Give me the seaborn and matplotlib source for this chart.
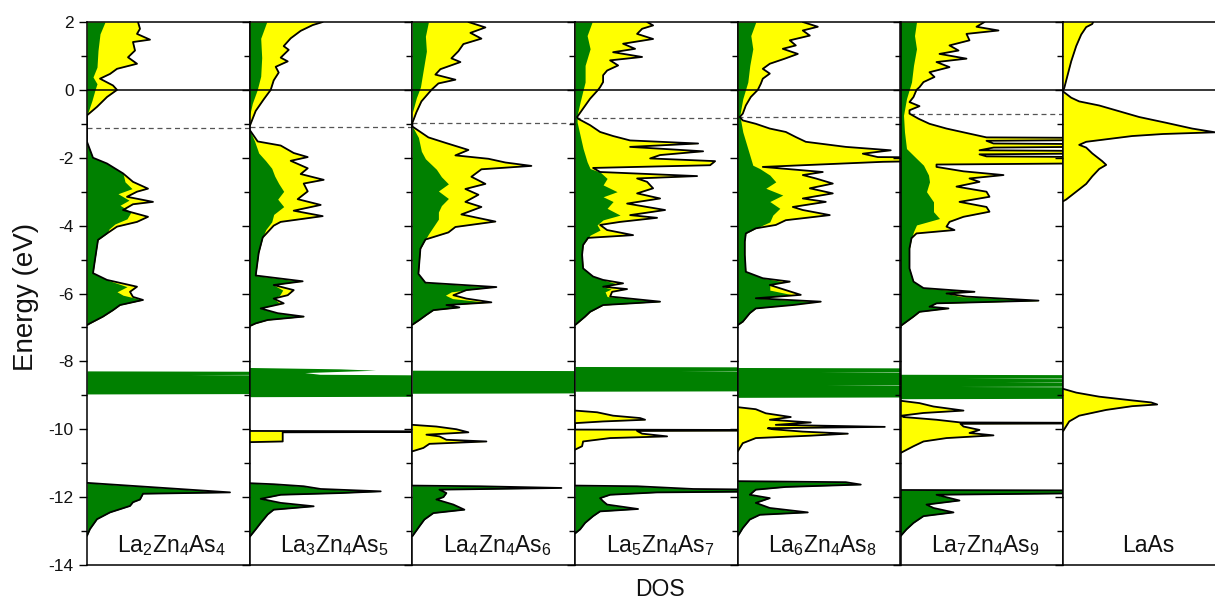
import numpy as np
import pandas as pd
import matplotlib
matplotlib.use('Agg')
import matplotlib.pyplot as plt
import seaborn as sns

# (energy eV, DOS arb. units), one set per panel
# *_tot  : total DOS (yellow fill, black outline) from 2 eV down to the bottom of the valence band
# *_zn   : green partial DOS in the same window
# *_band : narrow Zn-3d band (green, off scale)
# *_core : low-lying As-4s group (green)
# *_la   : La-derived semicore peaks (yellow only)

la2_tot = [(2.0, 51), (1.80, 53), (1.65, 50), (1.48, 63), (1.41, 46), (1.16, 48), (0.96, 41), (0.77, 50),
           (0.62, 30), (0.47, 23), (0.33, 13), (0.13, 26), (0.0, 30), (-0.21, 20), (-0.5, 10), (-0.75, 0),
           (-1.53, 0), (-2.0, 6), (-2.17, 20), (-2.46, 36), (-2.71, 46), (-2.91, 61), (-3.0, 50), (-3.15, 40),
           (-3.3, 66), (-3.37, 46), (-3.54, 36), (-3.74, 61), (-3.89, 50), (-4.03, 30), (-4.23, 20), (-4.42, 11),
           (-5.0, 8), (-5.4, 6), (-5.6, 20), (-5.8, 50), (-5.95, 43), (-6.1, 46), (-6.19, 56), (-6.34, 33),
           (-6.49, 26), (-6.68, 16), (-6.88, 3), (-6.93, 0)]
la2_zn = [(2.0, 18), (1.65, 13), (1.16, 11), (0.67, 10), (0.38, 6), (0.18, 10), (0.0, 8), (-0.31, 5), (-0.75, 0),
          (-1.53, 0), (-2.0, 6), (-2.17, 20), (-2.46, 36), (-2.71, 38), (-2.91, 45), (-3.06, 31), (-3.25, 42),
          (-3.4, 33), (-3.6, 44), (-3.8, 40), (-3.95, 28), (-4.1, 22), (-4.23, 20), (-4.42, 11), (-5.0, 8),
          (-5.4, 6), (-5.6, 20), (-5.8, 40), (-5.95, 30), (-6.05, 36), (-6.19, 56), (-6.34, 33), (-6.49, 26),
          (-6.68, 16), (-6.88, 3), (-6.93, 0)]
la2_band = [(-8.28, 0), (-8.30, 300), (-8.37, 300), (-8.39, 103), (-8.41, 300), (-8.94, 300), (-8.96, 0)]
la2_core = [(-11.58, 0), (-11.86, 143), (-11.9, 56), (-12.07, 53), (-12.15, 46), (-12.26, 43), (-12.45, 23),
            (-12.65, 10), (-12.94, 3), (-13.14, 0)]

la3_tot = [(2.0, 73), (1.91, 63), (1.74, 51), (1.52, 41), (1.29, 34), (1.18, 39), (0.95, 31), (0.84, 38),
           (0.68, 26), (0.51, 29), (0.28, 24), (0.0, 21), (-0.28, 14), (-0.62, 6), (-1.07, 0), (-1.18, 0),
           (-1.52, 8), (-1.64, 31), (-1.86, 44), (-1.98, 58), (-2.09, 41), (-2.31, 58), (-2.48, 51), (-2.65, 74),
           (-2.76, 54), (-2.99, 58), (-3.22, 48), (-3.39, 71), (-3.56, 44), (-3.72, 73), (-3.89, 31), (-4.0, 24),
           (-4.35, 13), (-4.8, 9), (-5.47, 6), (-5.64, 53), (-5.75, 24), (-5.9, 44), (-6.05, 38), (-6.15, 24),
           (-6.29, 34), (-6.44, 11), (-6.58, 28), (-6.68, 54), (-6.78, 18), (-6.88, 6), (-6.96, 0)]
la3_zn = [(2.0, 17), (1.52, 11), (0.95, 12), (0.4, 11), (0.0, 7.5), (-0.4, 2.6), (-0.74, 0), (-1.18, 0),
          (-1.52, 5), (-1.86, 9), (-2.09, 16), (-2.31, 22), (-2.54, 25), (-2.76, 29), (-2.99, 34), (-3.22, 28),
          (-3.44, 34), (-3.67, 24), (-3.89, 22), (-4.12, 16), (-4.35, 13), (-4.8, 9), (-5.47, 6), (-5.64, 50),
          (-5.75, 24), (-5.9, 33), (-6.05, 30), (-6.15, 24), (-6.29, 30), (-6.44, 11), (-6.58, 28), (-6.68, 54),
          (-6.78, 18), (-6.88, 6), (-6.96, 0)]
la3_band = [(-8.18, 0), (-8.22, 90), (-8.26, 126), (-8.33, 55), (-8.38, 70), (-8.42, 300), (-9.02, 300), (-9.04, 0)]
la3_core = [(-11.59, 0), (-11.62, 24), (-11.68, 54), (-11.76, 71), (-11.83, 131), (-11.88, 91), (-11.93, 31),
            (-12.05, 11), (-12.17, 31), (-12.27, 64), (-12.37, 24), (-12.51, 18), (-12.76, 11), (-12.95, 6),
            (-13.17, 0)]
la3_la = [(-10.05, 0), (-10.07, 300), (-10.09, 33), (-10.36, 33), (-10.38, 0)]

la4_tot = [(2.0, 56), (1.84, 73), (1.68, 58), (1.51, 69), (1.35, 51), (1.14, 46), (0.93, 39), (0.82, 48),
           (0.61, 28), (0.45, 23), (0.3, 43), (0.19, 26), (0.0, 19), (-0.34, 9), (-0.66, 4), (-0.97, 0),
           (-1.08, 0), (-1.4, 16), (-1.56, 33), (-1.77, 56), (-1.93, 43), (-2.03, 76), (-2.14, 93), (-2.24, 119),
           (-2.34, 69), (-2.56, 59), (-2.77, 73), (-2.92, 53), (-3.09, 66), (-3.3, 53), (-3.45, 69), (-3.67, 49),
           (-3.88, 83), (-4.04, 43), (-4.2, 36), (-4.41, 13), (-4.68, 8), (-5.42, 6), (-5.68, 13), (-5.81, 84),
           (-5.9, 54), (-6.05, 41), (-6.15, 54), (-6.26, 79), (-6.34, 34), (-6.41, 47), (-6.49, 21), (-6.63, 14),
           (-6.78, 7), (-6.88, 2), (-6.92, 0)]
la4_zn = [(2.0, 16), (1.58, 13), (1.14, 14), (0.61, 11), (0.08, 8), (-0.23, 4), (-0.66, 0), (-1.08, 0),
          (-1.4, 6), (-1.81, 9), (-2.03, 13), (-2.34, 24), (-2.56, 29), (-2.77, 36), (-2.98, 26), (-3.2, 36),
          (-3.41, 29), (-3.6, 26), (-3.81, 26), (-4.03, 21), (-4.25, 16), (-4.41, 13), (-4.68, 8), (-5.42, 6),
          (-5.68, 13), (-5.81, 80), (-5.95, 39), (-6.05, 33), (-6.15, 40), (-6.26, 75), (-6.34, 34), (-6.41, 47),
          (-6.49, 21), (-6.63, 14), (-6.78, 7), (-6.88, 2), (-6.92, 0)]
la4_band = [(-8.26, 0), (-8.28, 300), (-8.92, 300), (-8.94, 0)]
la4_core = [(-11.66, 0), (-11.68, 67), (-11.73, 149), (-11.78, 27), (-11.88, 34), (-12.0, 31), (-12.07, 24),
            (-12.22, 41), (-12.37, 52), (-12.47, 21), (-12.66, 12), (-12.86, 7), (-13.15, 0)]
la4_la = [(-9.87, 0), (-9.92, 24), (-10.0, 44), (-10.09, 56), (-10.16, 14), (-10.21, 27), (-10.31, 34),
          (-10.36, 74), (-10.43, 17), (-10.55, 11), (-10.65, 0)]

la5_tot = [(2.0, 72), (1.9, 78), (1.8, 67), (1.65, 62), (1.5, 78), (1.36, 48), (1.21, 60), (1.11, 38), (0.97, 67),
           (0.87, 35), (0.72, 43), (0.57, 32), (0.43, 28), (0.23, 28), (0.08, 25), (0.0, 23), (-0.26, 15),
           (-0.55, 8), (-0.8, 2), (-0.85, 3), (-1.04, 15), (-1.24, 25), (-1.36, 38), (-1.49, 55), (-1.58, 123),
           (-1.68, 55), (-1.81, 128), (-1.92, 85), (-2.02, 75), (-2.1, 140), (-2.22, 135), (-2.3, 18), (-2.42, 25),
           (-2.54, 122), (-2.61, 62), (-2.71, 72), (-2.9, 78), (-3.05, 62), (-3.2, 85), (-3.35, 52), (-3.54, 90),
           (-3.69, 55), (-3.77, 82), (-3.89, 45), (-3.98, 25), (-4.13, 32), (-4.28, 58), (-4.36, 13), (-4.57, 8),
           (-4.86, 7), (-5.26, 8), (-5.5, 18), (-5.6, 28), (-5.7, 48), (-5.8, 28), (-5.87, 52), (-5.95, 37),
           (-6.09, 35), (-6.24, 85), (-6.34, 28), (-6.54, 15), (-6.68, 10), (-6.88, 2), (-6.93, 0)]
la5_zn = [(2.0, 17), (1.6, 12), (1.21, 15), (0.72, 10), (0.23, 10), (0.0, 8), (-0.36, 5), (-0.75, 2), (-0.95, 2),
          (-1.34, 5), (-1.73, 8), (-2.12, 12), (-2.32, 15), (-2.42, 25), (-2.61, 32), (-2.8, 28), (-3.0, 42),
          (-3.15, 28), (-3.29, 38), (-3.49, 32), (-3.69, 45), (-3.83, 28), (-3.98, 22), (-4.13, 25), (-4.28, 15),
          (-4.36, 13), (-4.57, 8), (-4.86, 7), (-5.26, 8), (-5.5, 18), (-5.6, 28), (-5.7, 40), (-5.8, 28),
          (-5.87, 36), (-5.95, 30), (-6.09, 32), (-6.24, 85), (-6.34, 28), (-6.54, 15), (-6.68, 10), (-6.88, 2),
          (-6.93, 0)]
la5_band = [(-8.15, 0), (-8.17, 300), (-8.26, 300), (-8.28, 105), (-8.30, 300), (-8.86, 300), (-8.88, 0)]
la5_core = [(-11.66, 0), (-11.68, 62), (-11.76, 118), (-11.81, 300), (-11.86, 82), (-11.93, 35), (-12.03, 25),
            (-12.12, 28), (-12.22, 32), (-12.35, 63), (-12.42, 25), (-12.56, 18), (-12.76, 10), (-12.95, 5),
            (-13.07, 0)]
la5_la = [(-9.45, 0), (-9.5, 22), (-9.6, 38), (-9.67, 65), (-9.72, 70), (-9.77, 28), (-9.82, 0), (-10.01, 0),
          (-10.03, 300), (-10.05, 62), (-10.13, 67), (-10.21, 92), (-10.26, 35), (-10.36, 8), (-10.5, 7),
          (-10.6, 0)]

la6_tot = [(2.0, 65), (1.86, 80), (1.75, 65), (1.6, 72), (1.46, 52), (1.31, 58), (1.21, 45), (1.06, 60),
           (0.92, 47), (0.77, 32), (0.62, 25), (0.48, 32), (0.33, 25), (0.18, 23), (0.0, 20), (-0.21, 13),
           (-0.46, 8), (-0.7, 5), (-0.8, 2), (-0.9, 5), (-1.0, 18), (-1.14, 32), (-1.24, 48), (-1.39, 58),
           (-1.53, 68), (-1.68, 108), (-1.78, 153), (-1.88, 125), (-1.98, 140), (-2.01, 300), (-2.04, 300),
           (-2.12, 145), (-2.27, 25), (-2.42, 85), (-2.51, 65), (-2.61, 78), (-2.76, 95), (-2.9, 72), (-3.05, 95),
           (-3.2, 65), (-3.3, 88), (-3.45, 55), (-3.54, 65), (-3.69, 92), (-3.84, 48), (-3.98, 38), (-4.08, 18),
           (-4.23, 8), (-4.47, 7), (-4.86, 7), (-5.36, 8), (-5.55, 25), (-5.65, 52), (-5.75, 32), (-5.9, 48),
           (-6.04, 63), (-6.14, 18), (-6.24, 83), (-6.34, 55), (-6.44, 18), (-6.58, 12), (-6.83, 5), (-6.93, 0)]
la6_zn = [(2.0, 18), (1.6, 13), (1.21, 15), (0.72, 12), (0.23, 10), (-0.26, 5), (-0.75, 2), (-1.24, 5),
          (-1.73, 10), (-2.22, 15), (-2.32, 22), (-2.51, 32), (-2.71, 38), (-2.9, 28), (-3.1, 45), (-3.29, 32),
          (-3.49, 42), (-3.69, 35), (-3.89, 32), (-4.08, 18), (-4.23, 8), (-4.47, 7), (-4.86, 7), (-5.36, 8),
          (-5.55, 25), (-5.65, 45), (-5.75, 32), (-5.9, 32), (-6.04, 55), (-6.14, 18), (-6.24, 80), (-6.34, 50),
          (-6.44, 18), (-6.58, 12), (-6.83, 5), (-6.93, 0)]
la6_band = [(-8.18, 0), (-8.2, 300), (-8.29, 300), (-8.31, 82), (-8.33, 300), (-8.67, 300), (-8.69, 88),
            (-8.71, 300), (-9.04, 300), (-9.06, 0)]
la6_core = [(-11.53, 0), (-11.56, 108), (-11.63, 123), (-11.7, 48), (-11.78, 18), (-11.93, 12), (-12.03, 32),
            (-12.1, 25), (-12.17, 18), (-12.32, 32), (-12.45, 70), (-12.52, 22), (-12.66, 12), (-12.91, 5),
            (-13.15, 0)]
la6_la = [(-9.35, 0), (-9.41, 18), (-9.53, 28), (-9.64, 53), (-9.72, 32), (-9.8, 73), (-9.87, 38), (-9.93, 147),
          (-9.97, 30), (-10.0, 35), (-10.07, 65), (-10.13, 110), (-10.19, 72), (-10.26, 18), (-10.41, 5),
          (-10.65, 0)]

la7_tot = [(2.0, 84), (1.86, 76), (1.75, 98), (1.65, 66), (1.46, 69), (1.31, 49), (1.16, 58), (1.06, 39),
           (0.92, 66), (0.82, 36), (0.67, 49), (0.52, 29), (0.38, 34), (0.23, 23), (0.08, 19), (0.0, 16),
           (-0.21, 13), (-0.36, 9), (-0.48, 19), (-0.6, 9), (-0.7, 9), (-0.85, 18), (-1.0, 29), (-1.14, 46),
           (-1.29, 69), (-1.40, 86), (-1.43, 300), (-1.46, 300), (-1.50, 86), (-1.58, 93), (-1.62, 300),
           (-1.65, 300), (-1.70, 93), (-1.78, 79), (-1.82, 300), (-1.85, 300), (-1.90, 79), (-1.96, 86),
           (-2.0, 300), (-2.14, 300), (-2.2, 36), (-2.27, 36), (-2.4, 63), (-2.51, 103), (-2.61, 69), (-2.71, 79),
           (-2.85, 56), (-3.0, 86), (-3.15, 89), (-3.3, 59), (-3.45, 86), (-3.59, 89), (-3.74, 63), (-3.89, 49),
           (-4.03, 46), (-4.13, 54), (-4.23, 16), (-4.37, 11), (-4.67, 9), (-5.26, 9), (-5.65, 13), (-5.84, 23),
           (-5.95, 74), (-6.0, 46), (-6.09, 66), (-6.21, 138), (-6.29, 36), (-6.39, 29), (-6.44, 48), (-6.54, 19),
           (-6.68, 13), (-6.83, 6), (-6.96, 0)]
la7_zn = [(2.0, 16), (1.6, 14), (1.21, 16), (0.72, 13), (0.23, 11), (-0.26, 6), (-0.75, 3), (-1.24, 4),
          (-1.73, 6), (-2.02, 16), (-2.22, 23), (-2.51, 28), (-2.71, 29), (-3.0, 26), (-3.3, 33), (-3.59, 33),
          (-3.79, 39), (-3.98, 16), (-4.18, 13), (-4.37, 11), (-4.67, 9), (-5.26, 9), (-5.65, 13), (-5.84, 23),
          (-5.95, 70), (-6.0, 46), (-6.09, 60), (-6.21, 138), (-6.29, 36), (-6.39, 29), (-6.44, 46), (-6.54, 19),
          (-6.68, 13), (-6.83, 6), (-6.96, 0)]
la7_band = [(-8.38, 0), (-8.4, 300), (-8.48, 300), (-8.5, 63), (-8.52, 300), (-8.58, 300), (-8.6, 103),
            (-8.62, 300), (-8.72, 300), (-8.74, 59), (-8.76, 300), (-9.08, 300), (-9.1, 0)]
la7_core = [(-11.79, 0), (-11.81, 300), (-11.85, 300), (-11.93, 36), (-12.1, 59), (-12.22, 26), (-12.32, 33),
            (-12.45, 53), (-12.56, 23), (-12.76, 13), (-12.95, 6), (-13.15, 0)]
la7_la = [(-9.16, 0), (-9.23, 19), (-9.33, 33), (-9.45, 63), (-9.52, 23), (-9.6, 1), (-9.64, 3), (-9.72, 36),
          (-9.8, 60), (-9.82, 300), (-9.84, 60), (-9.92, 63), (-10.02, 79), (-10.11, 69), (-10.18, 93),
          (-10.26, 46), (-10.36, 23), (-10.5, 13), (-10.7, 0)]

laas_tot = [(2.0, 30), (1.94, 29), (1.85, 23), (1.63, 18), (1.29, 13), (0.84, 8), (0.39, 4), (0.05, 1), (0.0, 0),
            (-0.05, 0), (-0.23, 8), (-0.34, 16), (-0.46, 36), (-0.63, 56), (-0.8, 76), (-0.97, 103), (-1.14, 129),
            (-1.25, 152), (-1.3, 100), (-1.36, 69), (-1.53, 23), (-1.62, 16), (-1.7, 23), (-1.87, 29), (-2.1, 39),
            (-2.21, 43), (-2.33, 36), (-2.55, 29), (-2.77, 23), (-3.0, 13), (-3.23, 3), (-3.28, 0)]
laas_la = [(-8.81, 0), (-8.92, 13), (-9.04, 36), (-9.15, 69), (-9.21, 88), (-9.27, 94), (-9.32, 69), (-9.43, 43),
           (-9.6, 16), (-9.77, 6), (-10.05, 0)]

labels = ['La$_2$Zn$_4$As$_4$', 'La$_3$Zn$_4$As$_5$', 'La$_4$Zn$_4$As$_6$', 'La$_5$Zn$_4$As$_7$',
          'La$_6$Zn$_4$As$_8$', 'La$_7$Zn$_4$As$_9$', 'LaAs']
vbm = [-1.12, -1.08, -0.98, -0.82, -0.80, -0.70, None]

panels = [
    (la2_tot, la2_zn, la2_band, la2_core, None),
    (la3_tot, la3_zn, la3_band, la3_core, la3_la),
    (la4_tot, la4_zn, la4_band, la4_core, la4_la),
    (la5_tot, la5_zn, la5_band, la5_core, la5_la),
    (la6_tot, la6_zn, la6_band, la6_core, la6_la),
    (la7_tot, la7_zn, la7_band, la7_core, la7_la),
    (laas_tot, None, None, None, laas_la),
]

YEL = '#ffff00'
GRN = '#008000'

sns.set_theme(style='ticks')
plt.rcParams['font.family'] = ['Liberation Sans', 'DejaVu Sans']
plt.rcParams['mathtext.fontset'] = 'custom'
plt.rcParams['mathtext.rm'] = 'Liberation Sans'
plt.rcParams['mathtext.default'] = 'regular'
plt.rcParams['axes.unicode_minus'] = False


def split(pts):
    a = np.array(pts, dtype=float)
    return a[:, 0], a[:, 1]


def outline(ax, pts):
    df = pd.DataFrame(pts, columns=['E', 'dos'])
    sns.lineplot(data=df, x='dos', y='E', orient='y', sort=False, estimator=None,
                 color='black', lw=1.3, ax=ax, zorder=4, legend=False)


fig = plt.figure(figsize=(12.15, 6.0), dpi=100)
x0, pw = 87, 162.7

for i, (tot, zn, band, core, la) in enumerate(panels):
    ax = fig.add_axes([(x0 + i * pw) / 1215, 35 / 600, pw / 1215, 543 / 600])

    if vbm[i] is not None:
        ax.axhline(vbm[i], color='#555555', lw=0.9, ls=(0, (4, 3)), zorder=1)

    # yellow total DOS first, green partial on top, black outline last
    for seg in [tot, la]:
        if seg is None:
            continue
        e, d = split(seg)
        ax.fill_betweenx(e, 0, d, color=YEL, lw=0, zorder=2)

    for seg in [zn, band, core]:
        if seg is None:
            continue
        e, d = split(seg)
        ax.fill_betweenx(e, 0, d, color=GRN, lw=0, zorder=3)

    for seg in [tot, la, core]:
        if seg is not None:
            outline(ax, seg)

    ax.axhline(0, color='black', lw=1.1, zorder=5)

    ax.text(85, -13.62, labels[i], ha='center', va='baseline', fontsize=16.5, color='#111111', zorder=6)

    ax.set_xlim(0, pw)
    ax.set_ylim(-14, 2)
    ax.set_xticks([])
    ax.set_yticks(np.arange(-14, 3, 2))
    ax.set_yticks(np.arange(-13, 2, 2), minor=True)
    ax.tick_params(axis='y', which='major', direction='out', length=6, width=1, color='black',
                   labelsize=12.5, labelcolor='#111111', left=True, right=False)
    ax.tick_params(axis='y', which='minor', direction='out', length=4, width=1, color='black',
                   left=True, right=False)
    if i > 0:
        ax.tick_params(axis='y', labelleft=False)
    ax.set(xlabel='', ylabel='')
    for s in ax.spines.values():
        s.set_color('black')
        s.set_linewidth(1.1)
        s.set_zorder(7)

fig.text(0.021, 0.505, 'Energy (eV)', rotation=90, ha='center', va='center', fontsize=20, color='#111111')
fig.text(0.543, 0.017, 'DOS', ha='center', va='center', fontsize=16.5, color='#111111')

fig.savefig('out.png', dpi=100)
